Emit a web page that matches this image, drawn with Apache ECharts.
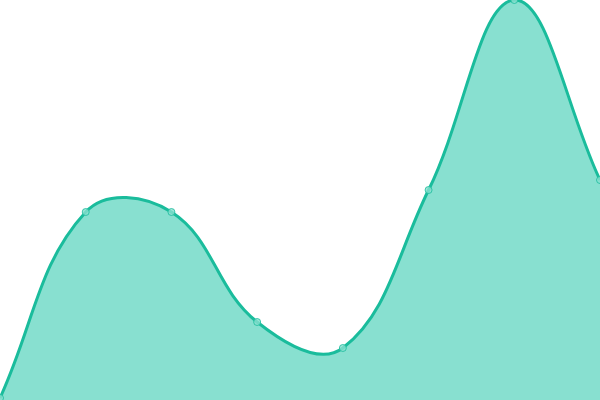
<!DOCTYPE html>
<html>
<head>
<meta charset="utf-8">
<script src="https://cdn.jsdelivr.net/npm/echarts@6/dist/echarts.min.js"></script>
<style>html,body{margin:0;padding:0;background:#fff}#c{width:600px;height:400px}</style>
</head>
<body>
<div id="c"></div>
<script>
const categories = ['1', '2', '3', '4', '5', '6', '7', '8'];
const values = [1, 94, 94, 39, 26, 105, 200, 110];

const LINE = '#1abc9c';
const FILL = '#88e0d0';
const TENSION = 0.4;

function splinePath(pts) {
  // cardinal-style spline with distance-weighted control points
  const cps = pts.map((p, i) => {
    const prev = pts[Math.max(0, i - 1)];
    const next = pts[Math.min(pts.length - 1, i + 1)];
    const d01 = Math.hypot(p[0] - prev[0], p[1] - prev[1]);
    const d12 = Math.hypot(next[0] - p[0], next[1] - p[1]);
    let s01 = d01 / (d01 + d12 || 1);
    let s12 = d12 / (d01 + d12 || 1);
    const fa = TENSION * s01, fb = TENSION * s12;
    return {
      prev: [p[0] - fa * (next[0] - prev[0]), p[1] - fa * (next[1] - prev[1])],
      next: [p[0] + fb * (next[0] - prev[0]), p[1] + fb * (next[1] - prev[1])]
    };
  });
  let d = 'M' + pts[0][0] + ' ' + pts[0][1];
  for (let i = 1; i < pts.length; i++) {
    const a = cps[i - 1].next, b = cps[i].prev, p = pts[i];
    d += ' C' + a[0] + ' ' + a[1] + ' ' + b[0] + ' ' + b[1] + ' ' + p[0] + ' ' + p[1];
  }
  return d;
}

const chart = echarts.init(document.getElementById('c'));
chart.setOption({
  animation: false,
  grid: { left: 0, right: 0, top: 0, bottom: 0 },
  xAxis: { type: 'category', data: categories, boundaryGap: false, show: false },
  yAxis: { type: 'value', min: 0, max: 200, show: false },
  series: [{
    type: 'custom',
    data: values.map((v, i) => [i, v]),
    encode: { x: 0, y: 1 },
    clip: false,
    z: 1,
    renderItem: function (params, api) {
      if (params.dataIndex !== 0) return null;
      const pts = values.map((v, i) => api.coord([i, v]));
      const base = api.coord([0, 0])[1];
      const lineD = splinePath(pts);
      const last = pts[pts.length - 1];
      const areaD = lineD + ' L' + last[0] + ' ' + base + ' L' + pts[0][0] + ' ' + base + ' Z';
      return {
        type: 'group',
        children: [
          { type: 'path', shape: { pathData: areaD }, style: { fill: FILL, stroke: null } },
          { type: 'path', shape: { pathData: lineD }, style: { fill: null, stroke: LINE, lineWidth: 3 } }
        ]
      };
    }
  }, {
    type: 'scatter',
    data: values,
    symbol: 'circle',
    symbolSize: 7,
    clip: false,
    z: 3,
    itemStyle: { color: FILL, borderColor: LINE, borderWidth: 1 }
  }]
});
</script>
</body>
</html>
